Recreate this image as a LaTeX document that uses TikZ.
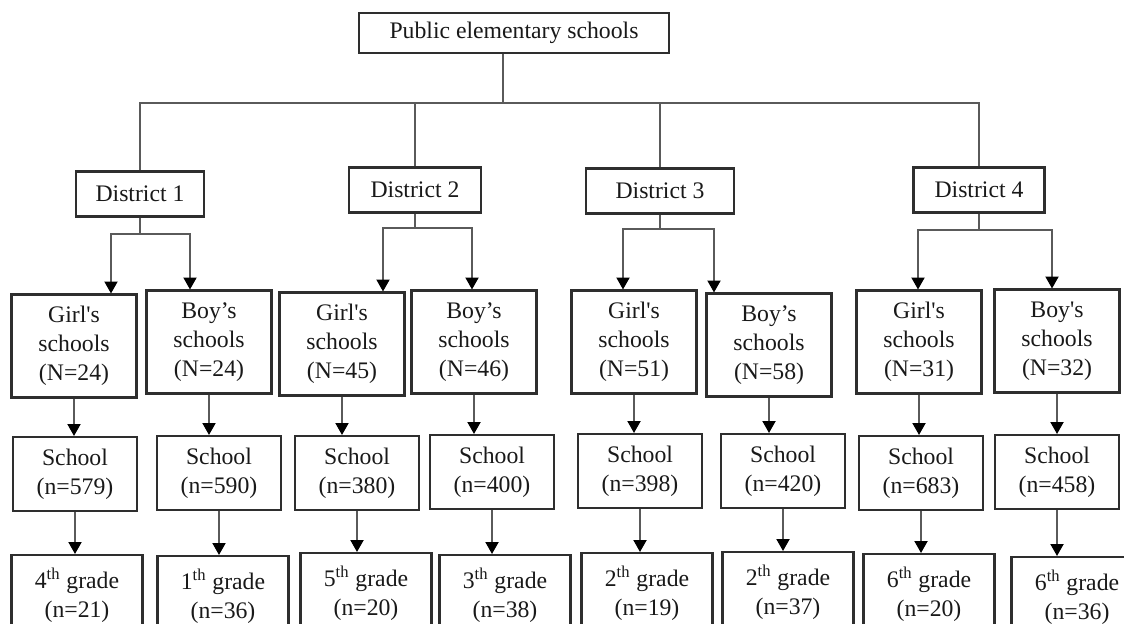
\documentclass[tikz,border=0pt]{standalone}
\usepackage{fontspec}
\setmainfont{Liberation Serif}[Ligatures=TeXOff]
\usetikzlibrary{arrows.meta}
\definecolor{boxgray}{HTML}{2E2E2E}
\definecolor{linegray}{HTML}{5A5A5A}
\tikzset{
  box/.style={draw=boxgray, line width=1.2pt, align=center, inner sep=1pt,
    text=black!90, font=\fontsize{13.5}{16.5}\selectfont},
  topbox/.style={box, minimum width=6.2cm, minimum height=0.8cm},
  distbox/.style={box, minimum height=0.9cm},
  genbox/.style={box, minimum width=2.5cm, minimum height=2.06cm},
  schoolbox/.style={box, minimum width=2.48cm, minimum height=1.48cm},
  gradebox/.style={box, minimum width=2.62cm, minimum height=1.6cm},
  line/.style={draw=linegray, line width=0.8pt}
}
\begin{document}
\begin{tikzpicture}[x=0.02cm,y=-0.02cm,>={Triangle[width=7.5pt,length=6.8pt,color=black]}]
  \useasboundingbox (0,0) rectangle (1124,624);
  \clip (0,0) rectangle (1124,624);
  % boxes
  \node[topbox] (top) at (514,33) {Public elementary schools};
  \foreach \i/\x/\y/\w in {1/140/194/2.55cm, 2/415/190/2.65cm, 3/660/191/2.95cm, 4/979/190/2.62cm}
    \node[distbox, minimum width=\w] (d\i) at (\x,\y) {District \i};
  \foreach \n/\x/\y/\t/\k in {g1/74/346/Girl's/24, b1/209/342/Boy’s/24,
      g2/342/344/Girl's/45, b2/474/342/Boy’s/46, g3/634/342/Girl's/51,
      b3/769/345/Boy’s/58, g4/919/342/Girl's/31, b4/1057/341/Boy's/32}
    \node[genbox] (\n) at (\x,\y) {\t\\schools\\(N=\k)};
  \foreach \n/\x/\y/\k in {g1/75/474/579, b1/219/473/590, g2/357/473/380,
      b2/492/472/400, g3/640/471/398, b3/783/471/420, g4/921/473/683, b4/1057/472/458}
    \node[schoolbox] (s\n) at (\x,\y) {School\\(n=\k)};
  \foreach \n/\x/\y/\g/\k in {g1/77/595/4/21, b1/223/596/1/36, g2/366/593/5/20,
      b2/505/595/3/38, g3/647/593/2/19, b3/788/592/2/37, g4/929/594/6/20, b4/1077/597/6/36}
    \node[gradebox] (r\n) at (\x,\y) {\g\textsuperscript{th} grade\\(n=\k)};
  % connectors
  \coordinate (bus) at (503,103);
  \draw[line] (top.south -| bus) -- (bus);
  \foreach \i in {1,...,4} \draw[line] (bus) -| (d\i.north);
  \foreach \i/\y/\a/\b in {1/234/111/190, 2/228/383/472, 3/229/623/714, 4/230/918/1052} {
    \coordinate (f\i) at (d\i.south |- 0,\y);
    \draw[line,->] (d\i.south) -- (f\i) -| (\a,0 |- g\i.north);
    \draw[line,->] (f\i) -| (\b,0 |- b\i.north);
  }
  \foreach \n in {g1,b1,g2,b2,g3,b3,g4,b4} {
    \draw[line,->] (\n.south) -- (\n.south |- s\n.north);
    \draw[line,->] (s\n.south) -- (s\n.south |- r\n.north);
  }
\end{tikzpicture}
\end{document}
